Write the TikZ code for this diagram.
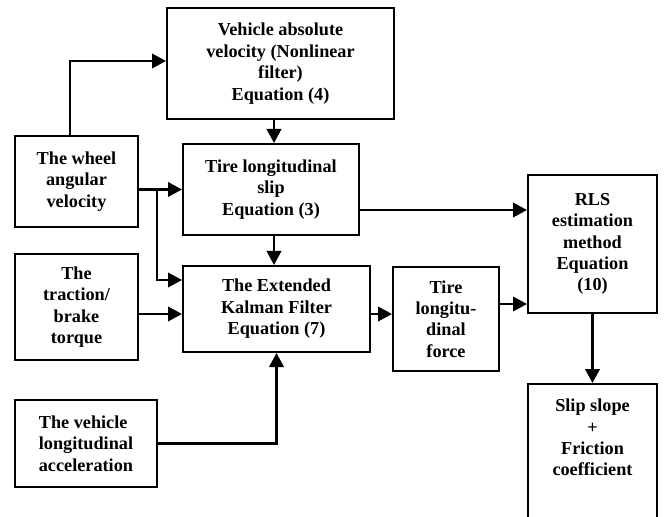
\documentclass[tikz,border=0pt]{standalone}
\usepackage{fontspec}
\setmainfont{Liberation Serif}
\usetikzlibrary{arrows.meta,calc}
\tikzset{
  box/.style={draw, line width=2bp, inner sep=0pt, align=center,
    font=\fontsize{18.3}{21.5}\selectfont\bfseries},
  arr/.style={line width=2.2bp, -{Triangle[length=14bp,width=14.5bp]}}
}
\begin{document}
\begin{tikzpicture}[x=1bp,y=-1bp]
\useasboundingbox (0,0) rectangle (672,517);
\clip (0,0) rectangle (672,517);
\fill[white] (0,0) rectangle (672,517);
\node[box, minimum width=227bp, minimum height=111bp] (vel) at (280.5,63.5)
  {Vehicle absolute\\velocity (Nonlinear\\filter)\\Equation (4)};
\node[box, minimum width=123bp, minimum height=91bp] (wheel) at (76.5,181.5)
  {The wheel\\angular\\velocity};
\node[box, minimum width=176bp, minimum height=91bp] (slip) at (271,189.5)
  {Tire longitudinal\\slip\\Equation (3)};
\node[box, minimum width=123bp, minimum height=106bp] (torque) at (76.5,307)
  {The\\traction/\\brake\\torque};
\node[box, minimum width=187bp, minimum height=86bp] (ekf) at (276.5,309)
  {The Extended\\Kalman Filter\\Equation (7)};
\node[box, align=left, minimum width=142bp, minimum height=87bp] (accel) at (86,443.5)
  {The vehicle\\longitudinal\\acceleration};
\node[box, minimum width=106bp, minimum height=104bp] (force) at (446,319)
  {Tire\\longitu-\\dinal\\force};
\node[box, minimum width=129bp, minimum height=138bp] (rls) at (592.5,244)
  {RLS\\estimation\\method\\Equation\\(10)};
\node[box, anchor=north, minimum width=129bp, inner ysep=15bp, text depth=140bp] (slope) at (592.5,383)
  {Slip slope\\+\\Friction\\coefficient};

\coordinate (j) at (157,189.5);
\draw[arr] ([xshift=-6.5bp]wheel.north) |- ([yshift=2.5bp]vel.west);
\draw[arr] (wheel.east |- slip.west) -- (slip.west);
\draw[arr] (j) |- ([yshift=29bp]ekf.west);
\draw[arr] ([xshift=-6.5bp]vel.south) -- ([xshift=-6.5bp]vel.south |- slip.north);
\draw[arr] ([xshift=3bp]slip.south) -- ([xshift=3bp]slip.south |- ekf.north);
\draw[arr] ([yshift=-7bp]torque.east) -- ([yshift=-7bp]torque.east -| ekf.west);
\draw[arr] (accel.east) -| (ekf.south);
\draw[arr] ([yshift=-20.5bp]slip.east) -- ([yshift=-20.5bp]slip.east -| rls.west);
\draw[arr] ([yshift=-5bp]ekf.east) -- ([yshift=-5bp]ekf.east -| force.west);
\draw[arr] ([yshift=15bp]force.east) -- ([yshift=15bp]force.east -| rls.west);
\draw[arr] (rls.south) -- (slope.north);
\end{tikzpicture}
\end{document}
